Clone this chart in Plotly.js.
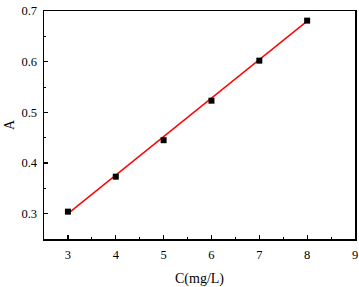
<!DOCTYPE html>
<html><head><meta charset="utf-8">
<script src="https://cdn.plot.ly/plotly-3.0.1.min.js"></script>
<style>html,body{margin:0;padding:0;background:#fff;}#chart{width:359px;height:287px;}</style>
</head><body><div id="chart"></div>
<script>
const concentration = [3, 4, 5, 6, 7, 8];
const absorbance = [0.304, 0.373, 0.445, 0.523, 0.602, 0.681];
const fitX = [3, 8];
const fitY = [0.300, 0.680];
const xTicks = [3, 4, 5, 6, 7, 8, 9];
const yTicks = [0.3, 0.4, 0.5, 0.6, 0.7];

const font = {family: '"Liberation Serif", "Times New Roman", serif', color: '#000', size: 12.5};
const titleFont = Object.assign({}, font, {size: 14});

const data = [
  {x: fitX, y: fitY, type: 'scatter', mode: 'lines', line: {color: '#ff0000', width: 1.4}, hoverinfo: 'skip'},
  {x: concentration, y: absorbance, type: 'scatter', mode: 'markers', marker: {symbol: 'square', color: '#000', size: 6}}
];

const axisCommon = {
  showgrid: false, zeroline: false, showline: true, linecolor: '#000', linewidth: 1.5, mirror: true,
  ticks: 'inside', ticklen: 4, tickwidth: 1.2, tickcolor: '#000', tickfont: font,
  minor: {ticks: 'inside', ticklen: 2, tickwidth: 1, tickcolor: '#000'}
};

const layout = {
  width: 359, height: 287,
  margin: {l: 44, r: 4, t: 11, b: 48},
  paper_bgcolor: '#fff', plot_bgcolor: '#fff',
  showlegend: false,
  font: font,
  xaxis: Object.assign({}, axisCommon, {
    range: [2.5, 9], tickvals: xTicks, ticktext: xTicks.map(String),
    ticklabelstandoff: 3,
    minor: Object.assign({}, axisCommon.minor, {dtick: 0.5, tick0: 2.5}),
    title: {text: 'C(mg/L)', font: titleFont, standoff: 12}
  }),
  yaxis: Object.assign({}, axisCommon, {
    range: [0.25, 0.7], tickvals: yTicks, ticktext: yTicks.map(v => v.toFixed(1)),
    ticklabelstandoff: 3,
    minor: Object.assign({}, axisCommon.minor, {dtick: 0.05, tick0: 0.25}),
    title: {text: 'A', font: titleFont, standoff: 3}
  })
};

Plotly.newPlot('chart', data, layout, {displayModeBar: false, staticPlot: true});
</script></body></html>
